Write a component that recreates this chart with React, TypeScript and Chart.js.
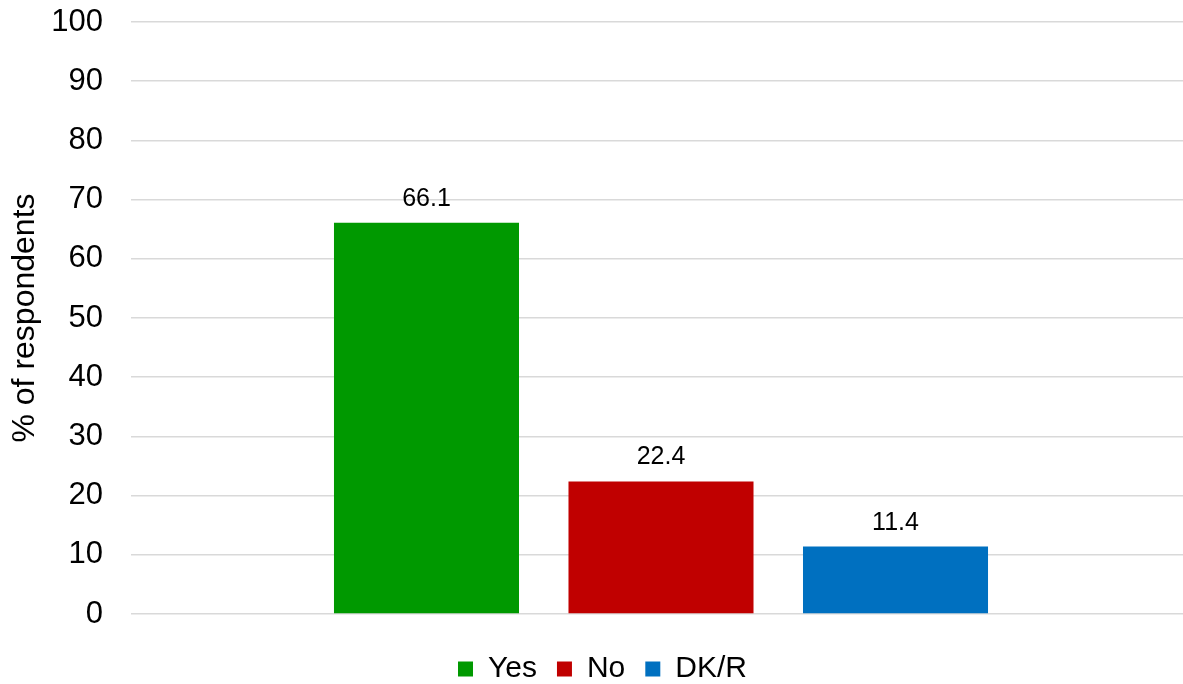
import React, { useEffect, useRef } from "react";
import { Chart, registerables } from "chart.js";

Chart.register(...registerables);

const categories = [""];
const seriesNames = ["Yes", "No", "DK/R"];
const seriesValues = [66.1, 22.4, 11.4];
const seriesColors = ["#009900", "#C00000", "#0070C0"];
const yTicks = [0, 10, 20, 30, 40, 50, 60, 70, 80, 90, 100];

const FONT = "'Liberation Sans', Arial, sans-serif";

const valueLabels = {
  id: "valueLabels",
  afterDatasetsDraw(chart: any) {
    const ctx = chart.ctx;
    ctx.save();
    ctx.font = `25px ${FONT}`;
    ctx.fillStyle = "#000000";
    ctx.textAlign = "center";
    ctx.textBaseline = "alphabetic";
    chart.data.datasets.forEach((ds: any, i: number) => {
      const meta = chart.getDatasetMeta(i);
      meta.data.forEach((el: any, j: number) => {
        const v = ds.data[j];
        ctx.fillText(v.toFixed(1), el.x, el.y - 17);
      });
    });
    ctx.restore();
  },
};

export default function App() {
  const ref = useRef<HTMLCanvasElement>(null);
  useEffect(() => {
    if (!ref.current) return;
    const chart = new Chart(ref.current, {
      type: "bar",
      data: {
        labels: categories,
        datasets: seriesNames.map((name, i) => ({
          label: name,
          data: [seriesValues[i]],
          backgroundColor: seriesColors[i],
          borderWidth: 0,
          categoryPercentage: 0.6637,
          barPercentage: 0.789,
        })),
      },
      options: {
        responsive: false,
        animation: false,
        layout: { padding: { top: 22, left: 14, right: 0, bottom: 0 } },
        plugins: {
          tooltip: { enabled: false },
          legend: {
            position: "bottom",
            title: {
              display: true,
              text: "",
              font: { size: 2, lineHeight: 1 },
              padding: { top: 9, bottom: 9 },
            },
            labels: {
              font: { family: FONT, size: 30 },
              color: "#000000",
              boxWidth: 15,
              boxHeight: 15,
              padding: 20,
            },
          },
        },
        scales: {
          x: { display: false },
          y: {
            min: 0,
            max: 100,
            afterFit: (s: any) => {
              s.width = 117;
              s.paddingTop = 0;
              s.paddingBottom = 0;
            },
            afterBuildTicks: (s: any) => {
              s.ticks = yTicks.map((v) => ({ value: v }));
            },
            border: { display: false },
            grid: { color: "#d9d9d9", lineWidth: 1.5, drawTicks: false },
            ticks: {
              font: { family: FONT, size: 31 },
              color: "#000000",
              padding: 28,
            },
            title: {
              display: true,
              text: "% of respondents",
              font: { family: FONT, size: 32, lineHeight: 0.7 },
              color: "#000000",
              padding: { top: 0, bottom: 0 },
            },
          },
        },
      },
      plugins: [valueLabels],
    });
    return () => chart.destroy();
  }, []);
  return (
    <div
      style={{
        position: "fixed",
        left: 0,
        top: 0,
        width: 1183,
        height: 684,
        overflow: "hidden",
        background: "#ffffff",
      }}
    >
      <canvas ref={ref} width={1191} height={694} style={{ display: "block" }} />
    </div>
  );
}
